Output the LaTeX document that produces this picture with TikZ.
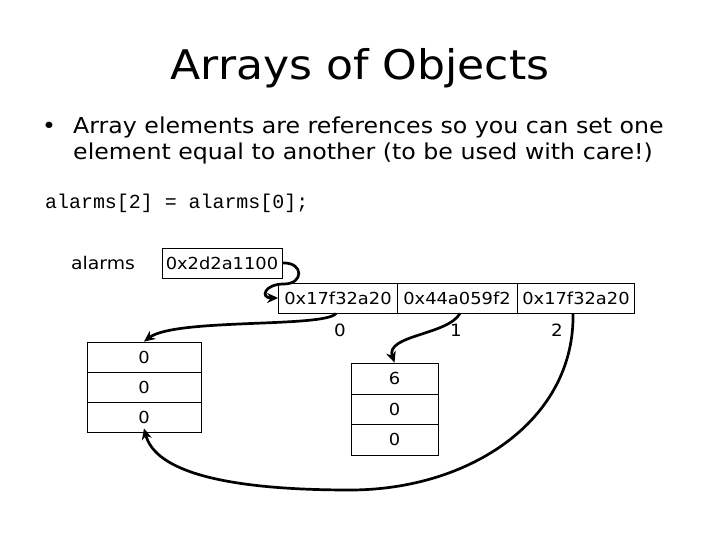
\documentclass[tikz,border=0pt]{standalone}
\usepackage{fontspec}
\setmainfont[FakeStretch=1.08]{DejaVu Sans}
\setmonofont{Liberation Mono}
\usetikzlibrary{arrows.meta}
\begin{document}
\begin{tikzpicture}[x=1bp,y=-1bp,
  cell/.style={draw,line width=0.8bp,minimum height=30bp,inner sep=0pt,font=\fontsize{16.6}{20}\selectfont},
  txt/.style={inner sep=0pt},
  conn/.style={line width=2.7bp,-{Stealth[length=11bp,width=10bp]}}]
\useasboundingbox (0,0) rectangle (720,540);
% title and text
\node[txt,font=\fontsize{41}{46}\selectfont] (title) at (360,68) {Arrays of Objects};
\node[txt,anchor=west,font=\fontsize{22}{26}\selectfont] (bul) at (42,128) {•};
\node[txt,anchor=west,font=\fontsize{22}{26}\selectfont] (l1) at (73,127) {Array elements are references so you can set one};
\node[txt,anchor=west,font=\fontsize{22}{26}\selectfont] (l2) at (73,153) {element equal to another (to be used with care!)};
\node[txt,anchor=west,font=\ttfamily\fontsize{20}{22}\selectfont] (code) at (45,203) {alarms[2] = alarms[0];};
\node[txt,font=\fontsize{17.5}{20}\selectfont] (alarms) at (103,263) {alarms};
% reference box
\node[cell,minimum width=120bp] (ref) at (222,263) {0x2d2a1100};
% array cells
\node[cell,minimum width=119bp] (c0) at (338,298) {0x17f32a20};
\node[cell,minimum width=120bp] (c1) at (457,298) {0x44a059f2};
\node[cell,minimum width=117bp] (c2) at (576,298) {0x17f32a20};
\node[txt,font=\fontsize{17}{20}\selectfont] (i0) at (340,330) {0};
\node[txt,font=\fontsize{17}{20}\selectfont] (i1) at (456,330) {1};
\node[txt,font=\fontsize{17}{20}\selectfont] (i2) at (557,330) {2};
% left object
\node[cell,minimum width=114bp] (a0) at (144,357) {0};
\node[cell,minimum width=114bp] (a1) at (144,387) {0};
\node[cell,minimum width=114bp] (a2) at (144,417) {0};
% right object
\node[cell,minimum width=87bp,minimum height=31bp] (b0) at (394.5,378.5) {6};
\node[cell,minimum width=87bp] (b1) at (394.5,409) {0};
\node[cell,minimum width=87bp,minimum height=31bp] (b2) at (394.5,439.5) {0};
% connectors
\draw[conn] (ref.east) .. controls (304,262) and (304,284) .. (284,284)
  .. controls (264,284) and (260,298) .. (c0.west);
\draw[conn] (c0.south) ++(-2,0) coordinate (s0)
  (s0) .. controls (325,328) and (175,318) .. (a0.north);
\draw[conn] (c1.south) ++(3,0) coordinate (s1)
  (s1) .. controls (448,335) and (385,335) .. (b0.north);
\draw[conn] (c2.south) ++(-3,0) coordinate (s2)
  (s2) .. controls (575,420) and (470,490) .. (350,490)
  .. controls (220,490) and (155,470) .. ([yshift=4bp]a2.south);
\end{tikzpicture}
\end{document}
